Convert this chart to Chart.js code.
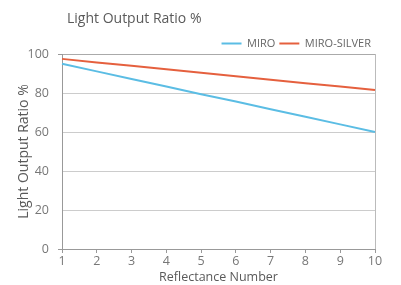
<!DOCTYPE html>
<html><head><meta charset="utf-8">
<script src="https://cdn.jsdelivr.net/npm/chart.js@4"></script>
<style>
html,body{margin:0;padding:0;background:#fff;}
#wrap{position:relative;width:401px;height:285px;}
#title{position:absolute;left:67px;top:8px;font:14px "Open Sans",sans-serif;color:#5a5a5a;white-space:nowrap;}
</style></head>
<body><div id="wrap"><div id="title">Light Output Ratio %</div><canvas id="c" width="401" height="285"></canvas></div>
<script>
const reflectance = ['1','2','3','4','5','6','7','8','9','10'];
const miro = [95, 91.1, 87.2, 83.3, 79.4, 75.6, 71.7, 67.8, 63.9, 60];
const miroSilver = [97.5, 95.7, 94, 92.2, 90.4, 88.6, 86.8, 85, 83.3, 81.5];
const yTicks = [0, 20, 40, 60, 80, 100];

const font = '"Open Sans", sans-serif';
const legendTrim = {
  id: 'legendTrim',
  beforeLayout(chart) {
    const l = chart.legend;
    if (l && !l._trimmed) {
      const f = l.fit.bind(l);
      l.fit = function () { f(); this.height = Math.max(0, this.height - 5); };
      l._trimmed = true;
    }
  }
};
new Chart(document.getElementById('c'), {
  type: 'line',
  plugins: [legendTrim],
  data: {
    labels: reflectance,
    datasets: [
      {label: 'MIRO', data: miro, borderColor: '#5bbde4', backgroundColor: '#5bbde4', borderWidth: 2, pointRadius: 0, tension: 0},
      {label: 'MIRO-SILVER', data: miroSilver, borderColor: '#e5603e', backgroundColor: '#e5603e', borderWidth: 2, pointRadius: 0, tension: 0}
    ]
  },
  options: {
    responsive: false,
    animation: false,
    layout: {padding: {left: 16, right: 26, top: 34, bottom: 0}},
    plugins: {
      title: {display: false},
      tooltip: {enabled: false},
      legend: {
        position: 'top', align: 'end',
        labels: {
          usePointStyle: true, pointStyle: 'line', pointStyleWidth: 20, boxHeight: 11,
          padding: 4, color: '#666', font: {family: font, size: 11}
        }
      }
    },
    scales: {
      x: {
        type: 'category',
        offset: false,
        border: {color: '#999', width: 1},
        grid: {
          color: (c) => c.index === reflectance.length - 1 ? '#bbb' : 'rgba(0,0,0,0)',
          tickColor: '#999', tickLength: 4, drawTicks: true
        },
        ticks: {color: '#777', font: {family: font, size: 12.5}, padding: 1, maxRotation: 0},
        title: {display: true, text: 'Reflectance Number', color: '#5a5a5a', font: {family: font, size: 12.5}, padding: {top: 0, bottom: 0}},
        afterFit: (s) => { s.height = 36; }
      },
      y: {
        min: 0, max: 100,
        afterBuildTicks: (s) => { s.ticks = yTicks.map(v => ({value: v})); },
        border: {color: '#999', width: 1},
        grid: {
          color: (c) => c.tick && c.tick.value === 100 ? '#aaa' : '#ccc',
          tickColor: (c) => c.tick && (c.tick.value === 100 || c.tick.value === 0) ? '#999' : 'rgba(0,0,0,0)',
          tickLength: 4
        },
        ticks: {color: '#777', font: {family: font, size: 12.5}, padding: 9},
        title: {display: true, text: 'Light Output Ratio %', color: '#5a5a5a', font: {family: font, size: 14}, padding: {top: 0, bottom: 0}},
        afterFit: (s) => { s.width = 46; }
      }
    }
  }
});
</script></body></html>
